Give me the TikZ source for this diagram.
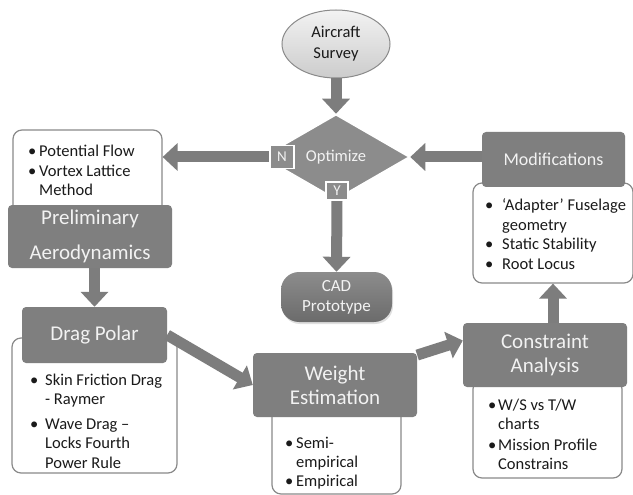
\documentclass[tikz,border=0pt]{standalone}
\usepackage{fontspec}
\setmainfont{Carlito}
\usetikzlibrary{shapes.geometric,arrows.meta,shadows}
\definecolor{boxgray}{HTML}{7F7F7F}
\definecolor{diagray}{HTML}{8C8C8C}
\definecolor{arrowgray}{HTML}{7D7D7D}
\definecolor{linegray}{HTML}{8A8A8A}
\definecolor{titletext}{HTML}{F2F2F2}
\definecolor{bodytext}{HTML}{1A1A1A}
\tikzset{
  title/.style={fill=boxgray, text=titletext, rounded corners=4pt, inner sep=0pt, align=center, font=\fontsize{21}{24}\selectfont},
  listbox/.style={draw=linegray, line width=1.2pt, fill=white, rounded corners=9pt, inner sep=0pt},
  fat/.style={draw=arrowgray, line width=11pt, -{Triangle[length=15pt,width=27pt]}},
  bl/.style={anchor=base west, inner sep=0pt, text=bodytext, font=\fontsize{16.5}{19.5}\selectfont},
  yn/.style={fill=diagray, draw=white, line width=1.5pt, text=titletext, inner sep=0pt, font=\fontsize{15}{16}\selectfont},
}
\begin{document}
\begin{tikzpicture}[x=1pt,y=-1pt]
\useasboundingbox (0,0) rectangle (633,495);
\fill[white] (0,0) rectangle (633,495);

% white list boxes (behind titles)
\node[listbox, minimum width=149pt, minimum height=84pt] (pfbox) at (87.5,172) {};
\node[listbox, minimum width=165pt, minimum height=135pt] (dragbox) at (94.5,405.5) {};
\node[listbox, minimum width=129pt, minimum height=90pt] (weightbox) at (336.5,449) {};
\node[listbox, minimum width=149pt, minimum height=98pt] (consbox) at (547.5,429) {};
\node[listbox, minimum width=160pt, minimum height=100pt] (modbox) at (553,233) {};

% title boxes
\node[title, minimum width=164pt, minimum height=63pt, font=\fontsize{21}{35}\selectfont] (prelim) at (90,236.5) {Preliminary\\Aerodynamics};
\node[title, minimum width=145pt, minimum height=56pt] (drag) at (94.5,335) {Drag Polar};
\node[title, minimum width=164pt, minimum height=64pt] (weight) at (335,385) {Weight\\Estimation};
\node[title, minimum width=164pt, minimum height=64pt] (cons) at (545,355) {Constraint\\Analysis};
\node[title, minimum width=143pt, minimum height=55pt, font=\fontsize{18}{22}\selectfont] (mod) at (553.5,159.5) {Modifications};

% start / decision / end
\node[ellipse, minimum width=108pt, minimum height=68pt, inner sep=0pt, draw=linegray, line width=1pt,
      top color=white!95!black, bottom color=white!80!black, text=bodytext, align=center,
      font=\fontsize{16.5}{21}\selectfont] (survey) at (336,44) {Aircraft\\Survey};
\node[diamond, minimum width=147pt, minimum height=85pt, inner sep=0pt, fill=diagray, draw=white, line width=1.5pt,
      text=titletext, font=\fontsize{16.5}{20}\selectfont] (opt) at (336,157) {Optimize};
\node[yn, minimum width=24pt, minimum height=23pt] (N) at (282,157) {N};
\node[yn, minimum width=22pt, minimum height=18pt] (Y) at (337,191) {Y};
\node[rounded corners=18pt, minimum width=111pt, minimum height=50pt, inner sep=0pt,
      top color=white!55!black, bottom color=white!42!black, text=titletext, align=center,
      drop shadow={shadow xshift=1pt, shadow yshift=-2pt, opacity=0.25},
      font=\fontsize{17}{20}\selectfont] (cad) at (336.5,297) {CAD\\Prototype};

% bullet texts
\node[bl] (pftext) at (28,157) {\begin{tabular}[t]{@{}p{11pt}@{}l@{}}
  • & Potential Flow\\
  • & Vortex Lattice\\
    & Method
\end{tabular}};
\node[bl] (dragtext) at (30,385) {\begin{tabular}[t]{@{}p{15pt}@{}l@{}}
  • & Skin Friction Drag\\
    & - Raymer\\[5pt]
  • & Wave Drag –\\
    & Locks Fourth\\
    & Power Rule
\end{tabular}};
\node[bl] (weighttext) at (285,448) {\begin{tabular}[t]{@{}p{11pt}@{}l@{}}
  • & Semi-\\
    & empirical\\[-1pt]
  • & Empirical
\end{tabular}};
\node[bl] (constext) at (488,410) {\begin{tabular}[t]{@{}p{10pt}@{}l@{}}
  • & W/S vs T/W\\
    & charts\\[1pt]
  • & Mission Profile\\
    & Constrains
\end{tabular}};
\node[bl] (modtext) at (485,211) {\begin{tabular}[t]{@{}p{17pt}@{}l@{}}
  • & ‘Adapter’ Fuselage\\
    & geometry\\
  • & Static Stability\\
  • & Root Locus
\end{tabular}};

% block arrows
\draw[fat] (survey.south) -- (opt.north);
\draw[fat] (N.west) -- (N.west -| pfbox.east);
\draw[fat] (mod.west |- opt.east) -- (opt.east);
\draw[fat] (Y.south) -- (cad.north);
\draw[fat] (drag.north |- prelim.south) -- (drag.north);
\draw[fat] (drag.east) -- (weight.west);
\draw[fat] (weight.20) -- (cons.170);
\draw[fat] (modbox.south |- cons.north) -- (modbox.south);

% redraw labels over arrows
\node[yn, minimum width=24pt, minimum height=23pt] at (N) {N};
\node[yn, minimum width=22pt, minimum height=18pt] at (Y) {Y};
\end{tikzpicture}
\end{document}
